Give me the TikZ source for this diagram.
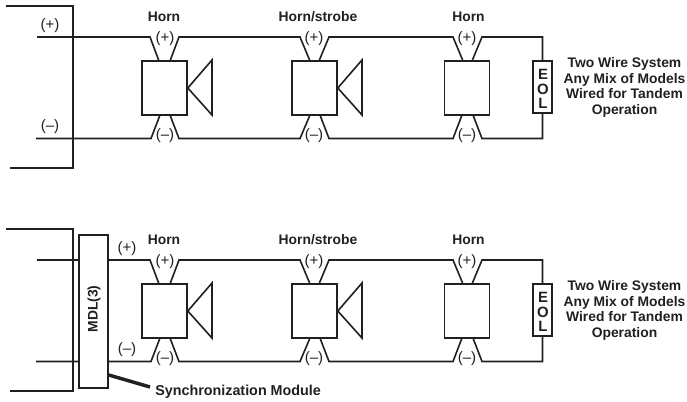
\documentclass[tikz,border=0pt]{standalone}
\usepackage{fontspec}
\setmainfont{Liberation Sans}
\definecolor{ink}{HTML}{231F20}
\tikzset{
  x=0.75pt,y=-0.75pt,
  wire/.style={draw=ink,line width=1.2pt,line join=miter},
  hornbox/.style={draw=ink,line width=1.2pt,fill=white,minimum width=33.75pt,minimum height=40.5pt,inner sep=0pt},
  eolbox/.style={draw=ink,line width=1.2pt,fill=white,minimum width=14.25pt,minimum height=39pt,inner sep=0pt},
  mdlbox/.style={draw=ink,line width=1.2pt,fill=white,minimum width=21.75pt,minimum height=114.75pt,inner sep=0pt},
  pol/.style={text=ink,font=\fontsize{11.3}{12}\selectfont,inner sep=0pt},
  head/.style={text=ink,font=\bfseries\fontsize{10.4}{12}\selectfont,inner sep=0pt},
  synctext/.style={text=ink,font=\bfseries\fontsize{10.75}{12}\selectfont,inner sep=0pt},
  side/.style={text=ink,font=\bfseries\fontsize{10.4}{11.6}\selectfont,align=center,inner sep=0pt},
  letter/.style={text=ink,font=\bfseries\fontsize{11.2}{12}\selectfont,inner sep=0pt}
}
\begin{document}
\begin{tikzpicture}
\useasboundingbox (0,0) rectangle (687,401);
\foreach \r/\dy in {a/0,b/223}{
\begin{scope}[yshift=-0.75*\dy pt]
  % free ends of the frame
  \coordinate (\r ft) at (6,6);
  \coordinate (\r fb) at (10,168);
  \coordinate (\r pl) at (37,37);
  \coordinate (\r ml) at (36,138.5);
  % horn boxes
  \node[hornbox] (\r h1) at (164.5,88) {};
  \node[hornbox] (\r h2) at (314.5,88) {};
  \node[hornbox] (\r h3) at (467,88) {};
  \node[eolbox] (\r eol) at (542.5,87) {};
  % wire bends on the top rail
  \coordinate (\r p1a) at (150,37);
  \coordinate (\r p1b) at (159,61);
  \coordinate (\r p1c) at (170,61);
  \coordinate (\r p1d) at (179,37);
  \coordinate (\r p2a) at (300,37);
  \coordinate (\r p2b) at (310,61);
  \coordinate (\r p2c) at (319,61);
  \coordinate (\r p2d) at (329,37);
  \coordinate (\r p3a) at (453,37);
  \coordinate (\r p3b) at (463,61);
  \coordinate (\r p3c) at (472,61);
  \coordinate (\r p3d) at (482,37);
  \coordinate (\r pe) at (542.5,37);
  % wire bends on the bottom rail
  \coordinate (\r m1a) at (151,138.5);
  \coordinate (\r m1b) at (160,115);
  \coordinate (\r m1c) at (170,115);
  \coordinate (\r m1d) at (179,138.5);
  \coordinate (\r m2a) at (300,138.5);
  \coordinate (\r m2b) at (310,115);
  \coordinate (\r m2c) at (320,115);
  \coordinate (\r m2d) at (329,138.5);
  \coordinate (\r m3a) at (453,138.5);
  \coordinate (\r m3b) at (462,115);
  \coordinate (\r m3c) at (473,115);
  \coordinate (\r m3d) at (482,138.5);
  \coordinate (\r me) at (542.5,138.5);
  % frame
  \draw[wire] (\r ft) -- (73,6) -- (73,168) -- (\r fb);
  % rails
  \draw[wire] (\r pl) -- (\r p1a) -- (\r p1b) (\r p1c) -- (\r p1d) -- (\r p2a) -- (\r p2b)
     (\r p2c) -- (\r p2d) -- (\r p3a) -- (\r p3b) (\r p3c) -- (\r p3d) -- (\r pe) -- (\r eol.north);
  \draw[wire] (\r ml) -- (\r m1a) -- (\r m1b) (\r m1c) -- (\r m1d) -- (\r m2a) -- (\r m2b)
     (\r m2c) -- (\r m2d) -- (\r m3a) -- (\r m3b) (\r m3c) -- (\r m3d) -- (\r me) -- (\r eol.south);
  % speakers
  \draw[wire] (\r h1.east) -- (212,60) -- (212,115) -- cycle;
  \draw[wire] (\r h2.east) -- (362,60) -- (362,115) -- cycle;
  % terminal labels
  \node[pol] (\r t1p) at (165,39) {(+)};
  \node[pol] (\r t2p) at (314,39) {(+)};
  \node[pol] (\r t3p) at (467,39) {(+)};
  \node[pol] (\r t1m) at (165,136) {(--)};
  \node[pol] (\r t2m) at (314,136) {(--)};
  \node[pol] (\r t3m) at (467,136) {(--)};
  % headings
  \node[head] (\r n1) at (164,17) {Horn};
  \node[head] (\r n2) at (318,17) {Horn/strobe};
  \node[head] (\r n3) at (468.5,17) {Horn};
  % EOL letters
  \node[letter] (\r e) at (543,74) {E};
  \node[letter] (\r o) at (543,89) {O};
  \node[letter] (\r l) at (543,103.5) {L};
  % side text
  \node[side] (\r s) at (624.5,87.5) {Two Wire System\\Any Mix of Models\\Wired for Tandem\\Operation};
\end{scope}}
% top row polarity labels
\node[pol] (ap) at (50,26) {(+)};
\node[pol] (am) at (50,127) {(--)};
% module
\node[mdlbox] (mdl) at (93.5,311.5) {};
\node[head,rotate=90] (mdlt) at (94,309) {MDL(3)};
\node[pol] (bp) at (127,249) {(+)};
\node[pol] (bm) at (127,350) {(--)};
\node[synctext,anchor=west] (sync) at (155,391.5) {Synchronization Module};
\draw[draw=ink,line width=2.6pt] (mdl.east |- 0,375) -- ([xshift=-3.75pt]sync.west |- 0,387);
\end{tikzpicture}
\end{document}
